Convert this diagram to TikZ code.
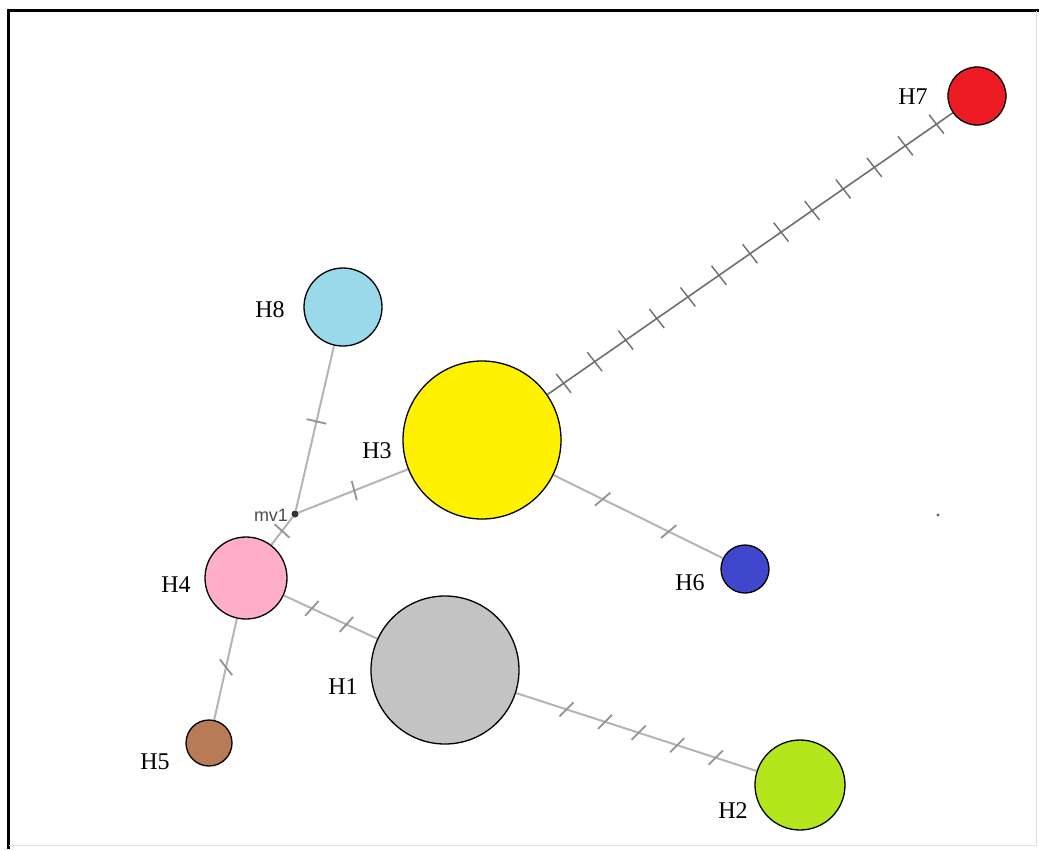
\documentclass[tikz,border=0pt]{standalone}
\usepackage{fontspec}
\setmainfont{Liberation Serif}
\newfontfamily\sansf{Liberation Sans}
\usetikzlibrary{backgrounds}
\definecolor{cred}{HTML}{ED1C24}
\definecolor{cturq}{HTML}{99D9EA}
\definecolor{cyel}{HTML}{FFF200}
\definecolor{cind}{HTML}{3F48CC}
\definecolor{cpink}{HTML}{FFAEC9}
\definecolor{cgray}{HTML}{C3C3C3}
\definecolor{cbrown}{HTML}{B97A57}
\definecolor{clime}{HTML}{B5E61D}
\definecolor{edgec}{HTML}{B4B4B4}
\definecolor{edgedark}{HTML}{6E6E6E}
\tikzset{
  hap/.style={circle, draw=black, line width=1.3pt, inner sep=0pt, minimum size=#1},
  lab/.style={font=\fontsize{24}{28}\selectfont, inner sep=0pt},
  lnk/.style={draw=edgec, line width=2pt},
  lnkD/.style={draw=edgedark, line width=1.6pt},
  tk/.style={rectangle, draw=gray!85, line width=1.8pt, minimum width=0pt, minimum height=20pt, inner sep=0pt, rotate=#1},
  tkD/.style={rectangle, draw=edgedark, line width=1.4pt, minimum width=0pt, minimum height=24pt, inner sep=0pt, rotate=#1}
}
\begin{document}
\begin{tikzpicture}[x=1pt, y=-1pt]
\useasboundingbox (0,0) rectangle (1039,849);
% frame
\draw[line width=3pt, black] (1039,10) -- (8,10) -- (8,849);
\draw[line width=1pt, black!12] (1036,11) -- (1036,845) -- (9,845);
% haplotypes
\node[hap=58pt, fill=cred]   (H7) at (977,96) {};
\node[hap=78pt, fill=cturq]  (H8) at (343,307) {};
\node[hap=158pt, fill=cyel]  (H3) at (482,440) {};
\node[hap=48pt, fill=cind]   (H6) at (745,569) {};
\node[hap=82pt, fill=cpink]  (H4) at (246,578) {};
\node[hap=148pt, fill=cgray] (H1) at (445,670) {};
\node[hap=46pt, fill=cbrown] (H5) at (209,743) {};
\node[hap=90pt, fill=clime]  (H2) at (800,785) {};
\node[circle, fill=black!80, inner sep=0pt, minimum size=7pt] (mv1) at (295,514) {};
\fill[black!60] (938,515) circle (1.6);
% labels
\node[lab] (lH7) at (913,97) {H7};
\node[lab] (lH8) at (270,310) {H8};
\node[lab] (lH3) at (377,451) {H3};
\node[lab] (lH4) at (176,585) {H4};
\node[lab] (lH6) at (690,583) {H6};
\node[lab] (lH1) at (343,687) {H1};
\node[lab] (lH5) at (155,762) {H5};
\node[lab] (lH2) at (733,811) {H2};
\node[font=\sansf\fontsize{18}{20}\selectfont, inner sep=0pt, text=black!70] (lmv1) at (271,515) {mv1};
% edges
\begin{scope}[on background layer]
\path[lnkD] (H3) -- (H7)
  \foreach \p in {0.04,0.1167,0.1933,0.27,0.3467,0.4233,0.5,0.5767,0.6533,0.73,0.8067,0.8833,0.96} {node[tkD=38, pos=\p] {}};
\path[lnk] (H1) -- (H2)
  \foreach \p in {0.21,0.37,0.51,0.67,0.83} {node[tk=-45, pos=\p] {}};
\path[lnk] (H4) -- (H1)
  \foreach \p in {0.3,0.67} {node[tk=-42, pos=\p] {}};
\path[lnk] (H4) -- (mv1) node[tk=48, pos=0.5] {};
\path[lnk] (mv1) -- (H3) node[tk=15, pos=0.51] {};
\path[lnk] (mv1) -- (H8) node[tk=77, pos=0.54] {};
\path[lnk] (H3) -- (H6)
  \foreach \p in {0.29,0.68} {node[tk=-50, pos=\p] {}};
\path[lnk] (H4) -- (H5) node[tk=38, pos=0.48] {};
\end{scope}
\end{tikzpicture}
\end{document}
